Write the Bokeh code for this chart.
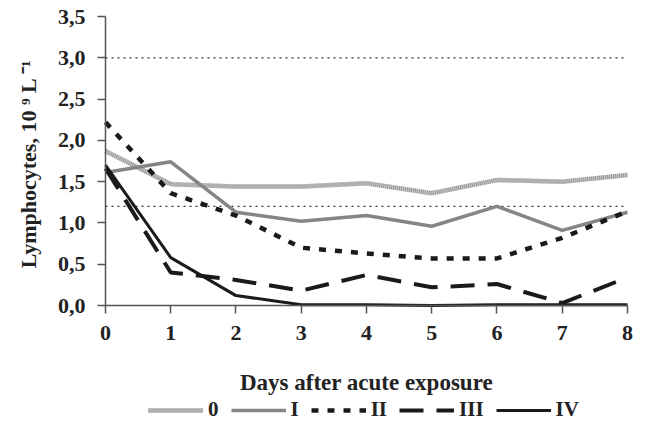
from bokeh.plotting import figure
from bokeh.models import Range1d, FixedTicker, Legend, LegendItem
from bokeh.embed import file_html
from bokeh.resources import INLINE

days = [0, 1, 2, 3, 4, 5, 6, 7, 8]
group_0 = [1.87, 1.47, 1.44, 1.44, 1.48, 1.36, 1.52, 1.50, 1.58]
group_I = [1.61, 1.74, 1.13, 1.02, 1.09, 0.96, 1.20, 0.91, 1.13]
group_II = [2.22, 1.36, 1.09, 0.70, 0.63, 0.57, 0.57, 0.82, 1.14]
group_III = [1.66, 0.40, 0.31, 0.18, 0.37, 0.22, 0.26, 0.03, 0.34]
group_IV = [1.70, 0.58, 0.12, 0.01, 0.01, 0.00, 0.01, 0.01, 0.01]
ref_upper = 3.0
ref_lower = 1.2
y_ticks = [0.0, 0.5, 1.0, 1.5, 2.0, 2.5, 3.0, 3.5]
y_tick_labels = ["0,0", "0,5", "1,0", "1,5", "2,0", "2,5", "3,0", "3,5"]
x_ticks = [0, 1, 2, 3, 4, 5, 6, 7, 8]
x_tick_labels = ["0", "1", "2", "3", "4", "5", "6", "7", "8"]
legend_labels = ["0", "I", "II", "III", "IV"]

FONT = "Liberation Serif"
TXT = "#222222"

# The frame covers the whole picture; both axes are drawn at the zero lines
# (fixed_location) so that tick labels, titles and legend sit around them.
X0, X1 = -1.609, 8.3065
Y0, Y1 = -1.417, 3.694
p = figure(frame_width=647, frame_height=422, output_backend="svg",
           toolbar_location=None, x_range=Range1d(X0, X1), y_range=Range1d(Y0, Y1),
           min_border_left=0, min_border_right=0, min_border_top=0,
           min_border_bottom=0)
p.outline_line_color = None
p.xgrid.visible = False
p.ygrid.visible = False
p.background_fill_color = "white"
p.border_fill_color = "white"

# reference range lines, spanning the day axis
for ref in (ref_upper, ref_lower):
    p.line([days[0], days[-1]], [ref, ref], line_color="#333333", line_width=1.3,
           line_dash="2 4")

r0a = p.line(days, group_0, line_color="#cacaca", line_width=4.5)
r0b = p.line(days, group_0, line_color="#979797", line_width=4.5, line_dash="1 1")
r1 = p.line(days, group_I, line_color="#858585", line_width=3.5)
r2 = p.line(days, group_II, line_color="#1a1a1a", line_width=4.5, line_dash="7 9")
r3 = p.line(days, group_III, line_color="#1a1a1a", line_width=4, line_dash="24 13")
r4 = p.line(days, group_IV, line_color="#1a1a1a", line_width=3)

# axes
p.yaxis.ticker = FixedTicker(ticks=y_ticks)
p.yaxis.major_label_overrides = {t: l for t, l in zip(y_ticks, y_tick_labels)}
p.yaxis.bounds = (0, 3.5)
p.yaxis.fixed_location = 0
p.xaxis.ticker = FixedTicker(ticks=x_ticks)
p.xaxis.major_label_overrides = {t: l for t, l in zip(x_ticks, x_tick_labels)}
p.xaxis.bounds = (0, 8)
p.xaxis.fixed_location = 0
for ax in (p.xaxis, p.yaxis):
    ax.axis_line_color = "#555555"
    ax.axis_line_width = 1.5
    ax.major_tick_line_color = "#555555"
    ax.major_tick_line_width = 1.5
    ax.major_tick_in = 0
    ax.major_tick_out = 8
    ax.minor_tick_line_color = None
    ax.major_label_text_font = FONT
    ax.major_label_text_font_style = "bold"
    ax.major_label_text_font_size = "22px"
    ax.major_label_text_color = TXT
    ax.axis_label_text_font = FONT
    ax.axis_label_text_font_style = "bold"
    ax.axis_label_text_color = TXT
p.yaxis.axis_label_text_font_size = "22px"
p.xaxis.axis_label_text_font_size = "23px"
p.yaxis.major_label_standoff = 12
p.xaxis.major_label_standoff = 12
p.yaxis.axis_label = "Lymphocytes, 10 \u2079  L \u207b\u00b9"
p.yaxis.axis_label_standoff = 14
p.xaxis.axis_label = "Days after acute exposure"
p.xaxis.axis_label_standoff = 27

legend = Legend(items=[
    LegendItem(label=legend_labels[0], renderers=[r0a, r0b]),
    LegendItem(label=legend_labels[1], renderers=[r1]),
    LegendItem(label=legend_labels[2], renderers=[r2]),
    LegendItem(label=legend_labels[3], renderers=[r3]),
    LegendItem(label=legend_labels[4], renderers=[r4]),
], orientation="horizontal", location=(148, 0))
legend.glyph_width = 55
legend.glyph_height = 18
legend.label_height = 18
legend.label_width = 0
legend.label_standoff = 5
legend.spacing = 12
legend.padding = 0
legend.margin = 0
legend.border_line_color = None
legend.background_fill_alpha = 0
legend.label_text_font = FONT
legend.label_text_font_style = "bold"
legend.label_text_font_size = "21px"
legend.label_text_color = TXT
p.add_layout(legend, "center")

open("out.html", "w").write(file_html(p, INLINE))
